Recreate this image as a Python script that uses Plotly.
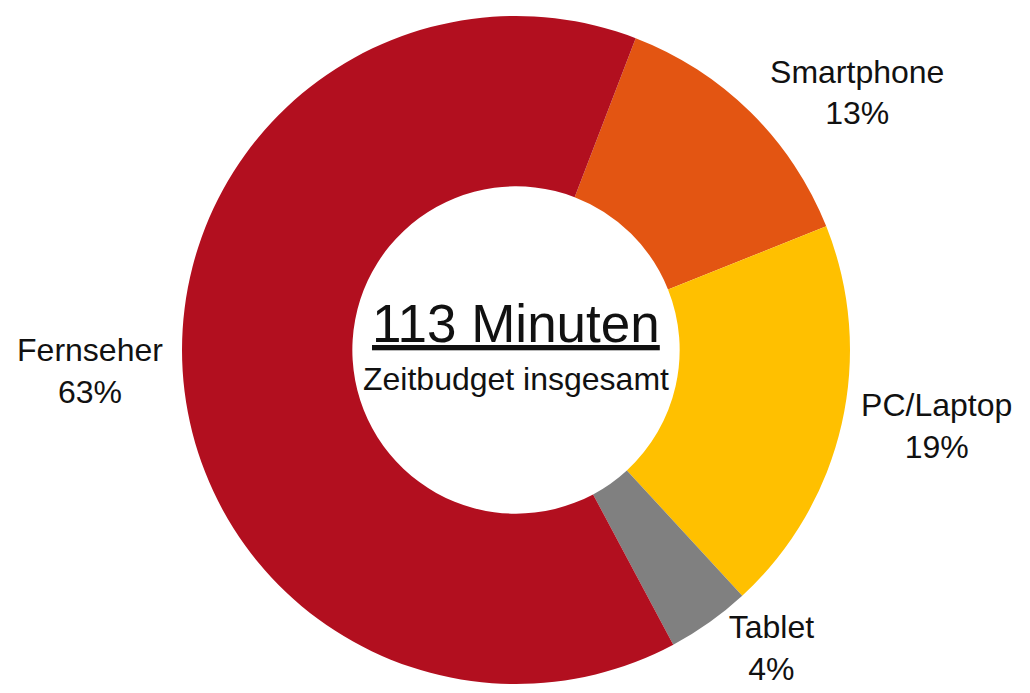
import plotly.graph_objects as go

# Zeitbudget nach Geraet (Anteil in %)
geraete = ["Smartphone", "PC/Laptop", "Tablet", "Fernseher"]
anteile = [13, 19, 4, 63]
farben = ["#E35512", "#FFC000", "#808080", "#B20F1F"]

gesamt_text = "113 Minuten"
unter_text = "Zeitbudget insgesamt"

fig = go.Figure()
fig.add_trace(go.Pie(
    labels=geraete,
    values=anteile,
    marker=dict(colors=farben, line=dict(width=0)),
    hole=0.49,
    sort=False,
    direction="clockwise",
    rotation=21,
    textposition="outside",
    texttemplate="%{label}<br>%{value}%",
    textfont=dict(family="Liberation Sans, Arial", size=32, color="#111111"),
    showlegend=False,
    domain=dict(x=[174 / 1030, 842 / 1030], y=[17 / 693, 685 / 693]),
))

fig.add_annotation(
    text="<u>" + gesamt_text + "</u>",
    x=0.493, y=0.545, xref="paper", yref="paper",
    xanchor="center", yanchor="middle",
    showarrow=False,
    font=dict(family="Liberation Sans, Arial", size=53, color="#111111"),
)
fig.add_annotation(
    text=unter_text,
    x=0.493, y=0.465, xref="paper", yref="paper",
    xanchor="center", yanchor="middle",
    showarrow=False,
    font=dict(family="Liberation Sans, Arial", size=32, color="#111111"),
)

fig.update_layout(
    width=1030,
    height=693,
    margin=dict(l=0, r=0, t=0, b=0),
    paper_bgcolor="white",
    plot_bgcolor="white",
)

fig.write_html("out.html")
